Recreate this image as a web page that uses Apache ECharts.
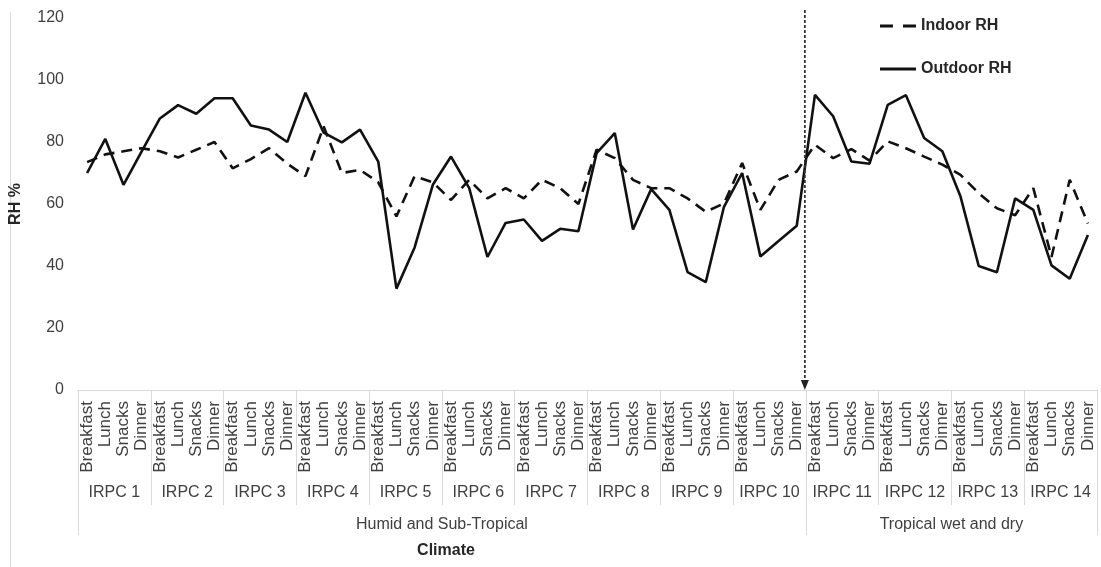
<!DOCTYPE html>
<html>
<head>
<meta charset="utf-8">
<script src="https://cdn.jsdelivr.net/npm/echarts@6/dist/echarts.min.js"></script>
<style>
html,body{margin:0;padding:0;background:#ffffff;}
#chart{width:1101px;height:567px;}
</style>
</head>
<body>
<div id="chart"></div>
<script>
// ---- data ----
const meals = ['Breakfast', 'Lunch', 'Snacks', 'Dinner'];
const groups = ['IRPC 1', 'IRPC 2', 'IRPC 3', 'IRPC 4', 'IRPC 5', 'IRPC 6', 'IRPC 7',
                'IRPC 8', 'IRPC 9', 'IRPC 10', 'IRPC 11', 'IRPC 12', 'IRPC 13', 'IRPC 14'];
const climates = ['Humid and Sub-Tropical', 'Tropical wet and dry'];
const climateGroupCounts = [10, 4];
const seriesNames = ['Indoor RH', 'Outdoor RH'];

const indoorRH = [
  73.5, 76, 77, 78,
  77, 75, 77.5, 80,
  71.5, 74.5, 78, 73,
  69, 85, 70, 71,
  67, 56, 69, 67,
  61.3, 67.8, 61.8, 65.1,
  61.8, 67.8, 65.1, 60,
  77.5, 74.8, 67.8, 65.1,
  65.1, 61.8, 57.5, 60.2,
  73.2, 58.1, 67.8, 70.5,
  79.1, 74.8, 77.7, 74,
  80.2, 78, 75.3, 72.7,
  69.4, 63.5, 58.6, 56.4,
  65.1, 42.9, 67.8, 53.7
];
const outdoorRH = [
  70, 81, 66.2, 77,
  87.6, 91.9, 89.1, 94.1,
  94.1, 85.3, 84, 80,
  95.9, 83, 79.9, 84,
  73.7, 32.7, 46, 66.2,
  75.3, 65.1, 42.9, 53.9,
  55, 48.1, 52, 51.2,
  76.4, 82.9, 51.8, 64.8,
  58.1, 38, 34.8, 59.1,
  70, 43.1, 48.1, 53,
  95.2, 88.3, 73.7, 73,
  92, 95.1, 81.3, 77,
  62.4, 40, 38, 61.8,
  58.1, 40.2, 35.9, 50
];
const yMin = 0, yMax = 120, yStep = 20;

// ---- derived ----
const categories = [];
groups.forEach(g => meals.forEach(m => categories.push(g + '|' + m)));
const nCat = categories.length;
const perGroup = meals.length;

const climateStartGroups = [];
let acc = 0;
climateGroupCounts.forEach(c => { climateStartGroups.push(acc); acc += c; });
const climateMid = {};
climateStartGroups.forEach((s, i) => {
  climateMid[(s + climateGroupCounts[i] / 2) * perGroup] = climates[i];
});
const climateBoundaryCat = climateStartGroups[1] * perGroup; // boundary between climates

const FONT = '"Liberation Sans", Arial, sans-serif';
const TXT = '#404040';
const AXC = '#d9d9d9';
const INK = '#111111';

const chart = echarts.init(document.getElementById('chart'), null, {renderer: 'canvas'});

chart.setOption({
  animation: false,
  backgroundColor: '#ffffff',
  textStyle: {fontFamily: FONT},
  grid: {left: 77, right: 4, top: 18, bottom: 177, containLabel: false},
  legend: {
    orient: 'vertical',
    left: 875,
    top: 13,
    itemWidth: 36,
    itemHeight: 16,
    itemGap: 27,
    itemStyle: {color: INK},
    textStyle: {fontFamily: FONT, fontSize: 16, fontWeight: 'bold', color: '#262626'},
    data: [
      {name: seriesNames[0], icon: 'path://M0,0H13V3H0Z M23,0H36V3H23Z'},
      {name: seriesNames[1], icon: 'path://M0,0H36V3H0Z'}
    ]
  },
  yAxis: {
    type: 'value',
    min: yMin, max: yMax, interval: yStep,
    axisLine: {show: false},
    axisTick: {show: false},
    splitLine: {show: false},
    axisLabel: {fontFamily: FONT, fontSize: 16, color: TXT, margin: 14},
    name: 'RH %',
    nameLocation: 'middle',
    nameGap: 54,
    nameTextStyle: {fontFamily: FONT, fontSize: 16, fontWeight: 'bold', color: '#262626'}
  },
  xAxis: [
    {
      type: 'category',
      data: categories,
      boundaryGap: true,
      axisLine: {show: true, lineStyle: {color: AXC, width: 1}},
      axisTick: {show: false},
      axisLabel: {
        interval: 0, rotate: 90, margin: 11,
        fontFamily: FONT, fontSize: 17, color: TXT,
        formatter: v => v.split('|')[1]
      }
    },
    {
      type: 'category',
      data: groups,
      position: 'bottom',
      boundaryGap: true,
      axisLine: {show: false},
      axisTick: {show: true, interval: 0, length: 115, lineStyle: {color: AXC, width: 1}},
      axisLabel: {interval: 0, margin: 95, fontFamily: FONT, fontSize: 16, color: TXT}
    },
    {
      type: 'category',
      data: groups,
      position: 'bottom',
      boundaryGap: true,
      axisLine: {show: false},
      axisTick: {
        show: true, length: 145, lineStyle: {color: AXC, width: 1},
        interval: (idx) => climateStartGroups.indexOf(idx) >= 0
      },
      axisLabel: {show: false}
    },
    {
      type: 'value',
      position: 'bottom',
      min: 0, max: nCat, interval: perGroup,
      axisLine: {show: false},
      axisTick: {show: false},
      splitLine: {show: false},
      axisLabel: {
        margin: 127, fontFamily: FONT, fontSize: 16, color: TXT,
        formatter: v => climateMid[v] || ''
      }
    }
  ],
  series: [
    {
      name: seriesNames[0],
      type: 'line',
      data: indoorRH,
      symbol: 'none',
      showSymbol: false,
      lineStyle: {color: INK, width: 2.6, type: [11, 7]},
      itemStyle: {color: INK},
      z: 3
    },
    {
      name: seriesNames[1],
      type: 'line',
      data: outdoorRH,
      symbol: 'none',
      showSymbol: false,
      lineStyle: {color: INK, width: 2.6, type: 'solid'},
      itemStyle: {color: INK},
      z: 4
    }
  ],
  graphic: [
    {id: 'border', type: 'line', shape: {x1: 10.5, y1: 12, x2: 10.5, y2: 567}, style: {stroke: AXC, lineWidth: 1}, silent: true},
    {id: 'xname', type: 'text', x: 446, y: 551,
     style: {text: 'Climate', fontFamily: FONT, fontSize: 16, fontWeight: 'bold', fill: '#262626', align: 'center', verticalAlign: 'middle'}, silent: true}
  ]
});

// divider arrow between the two climate zones, positioned through the axes
const xb = chart.convertToPixel({xAxisIndex: 3}, climateBoundaryCat) - 1;
const yb = chart.convertToPixel({yAxisIndex: 0}, yMin);
const yt = chart.convertToPixel({yAxisIndex: 0}, yMax) - 8;
chart.setOption({
  graphic: [
    {id: 'divLine', type: 'line', shape: {x1: xb, y1: yt, x2: xb, y2: yb - 8},
     style: {stroke: '#333333', lineWidth: 1.8, lineDash: [3, 2]}, silent: true, z: 10},
    {id: 'divHead', type: 'polygon', shape: {points: [[xb - 4, yb - 10], [xb + 4, yb - 10], [xb, yb]]},
     style: {fill: '#222222'}, silent: true, z: 10}
  ]
});
</script>
</body>
</html>
